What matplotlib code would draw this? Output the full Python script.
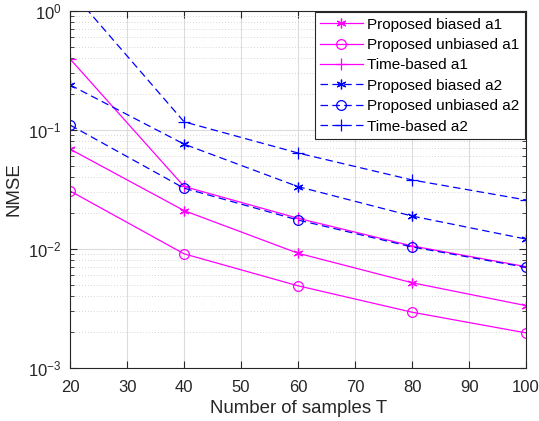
import matplotlib
matplotlib.use("Agg")
import matplotlib.pyplot as plt
from matplotlib.ticker import LogLocator, NullFormatter

plt.rcParams["font.family"] = ["Liberation Sans", "DejaVu Sans"]
plt.rcParams["mathtext.fontset"] = "custom"
plt.rcParams["mathtext.rm"] = "Liberation Sans"
plt.rcParams["mathtext.it"] = "Liberation Sans:italic"

T = [20, 40, 60, 80, 100]

biased_a1 = [0.069, 0.021, 0.0092, 0.0052, 0.00334]
unbiased_a1 = [0.0307, 0.0091, 0.0049, 0.00294, 0.00197]
time_a1 = [0.395, 0.0335, 0.0181, 0.0106, 0.0071]
biased_a2 = [0.239, 0.076, 0.0334, 0.0189, 0.0121]
unbiased_a2 = [0.110, 0.0324, 0.0175, 0.0104, 0.0070]
time_a2 = [1.5, 0.117, 0.064, 0.038, 0.0258]

labels = [
    "Proposed biased a1",
    "Proposed unbiased a1",
    "Time-based a1",
    "Proposed biased a2",
    "Proposed unbiased a2",
    "Time-based a2",
]

fig = plt.figure(figsize=(5.39, 4.21), dpi=100)
ax = fig.add_axes([0.130, 0.126, 0.846, 0.848])

mag = "#ff00ff"
blue = "#0000ff"
lw = 0.9
ms = 7
star = (6, 2, 0)  # asterisk like MATLAB '*'
dash = (6, 3.5)

ax.plot(T, biased_a1, "-", color=mag, marker=star, ms=ms, mew=0.9, lw=lw, label=labels[0])
ax.plot(T, unbiased_a1, "-", color=mag, marker="o", ms=ms, mfc="none", mew=0.9, lw=lw, label=labels[1])
ax.plot(T, time_a1, "-", color=mag, marker="+", ms=ms + 2, mew=0.9, lw=lw, label=labels[2])
ax.plot(T, biased_a2, "--", color=blue, marker=star, ms=ms, mew=0.9, lw=lw, dashes=dash, label=labels[3])
ax.plot(T, unbiased_a2, "--", color=blue, marker="o", ms=ms, mfc="none", mew=0.9, lw=lw, dashes=dash, label=labels[4])
ax.plot(T, time_a2, "--", color=blue, marker="+", ms=ms + 2, mew=0.9, lw=lw, dashes=dash, label=labels[5])

ax.set_yscale("log")
ax.set_xlim(20, 100)
ax.set_ylim(1e-3, 1)
ax.set_xticks(range(20, 101, 10))
ax.yaxis.set_major_locator(LogLocator(base=10, numticks=10))
ax.yaxis.set_minor_locator(LogLocator(base=10, subs=range(2, 10), numticks=20))
ax.yaxis.set_minor_formatter(NullFormatter())

ax.grid(True, which="major", color="#dcdcdc", lw=0.8, ls="-")
ax.grid(True, which="minor", axis="y", color="#c8c8c8", lw=0.6, ls=(0, (1, 2.5)))
ax.set_axisbelow(True)

ax.tick_params(which="both", direction="in", top=True, right=True, labelsize=12, colors="#262626")
ax.tick_params(which="major", length=5, width=0.8)
ax.tick_params(which="minor", length=3, width=0.6)
ax.tick_params(axis="x", which="major", pad=9)
ax.tick_params(axis="y", which="major", pad=6)
for s in ax.spines.values():
    s.set_color("#262626")
    s.set_linewidth(0.8)

ax.set_xlabel("Number of samples T", fontsize=13.4, color="#262626", labelpad=3)
ax.set_ylabel("NMSE", fontsize=13.4, color="#262626")

leg = ax.legend(loc="upper right", fontsize=11, frameon=True, fancybox=False,
                edgecolor="#262626", framealpha=1, borderaxespad=0.08,
                handlelength=2.8, handletextpad=0.3, labelspacing=0.42, borderpad=0.35)
leg.get_frame().set_linewidth(0.8)

fig.savefig("out.png", dpi=100)
